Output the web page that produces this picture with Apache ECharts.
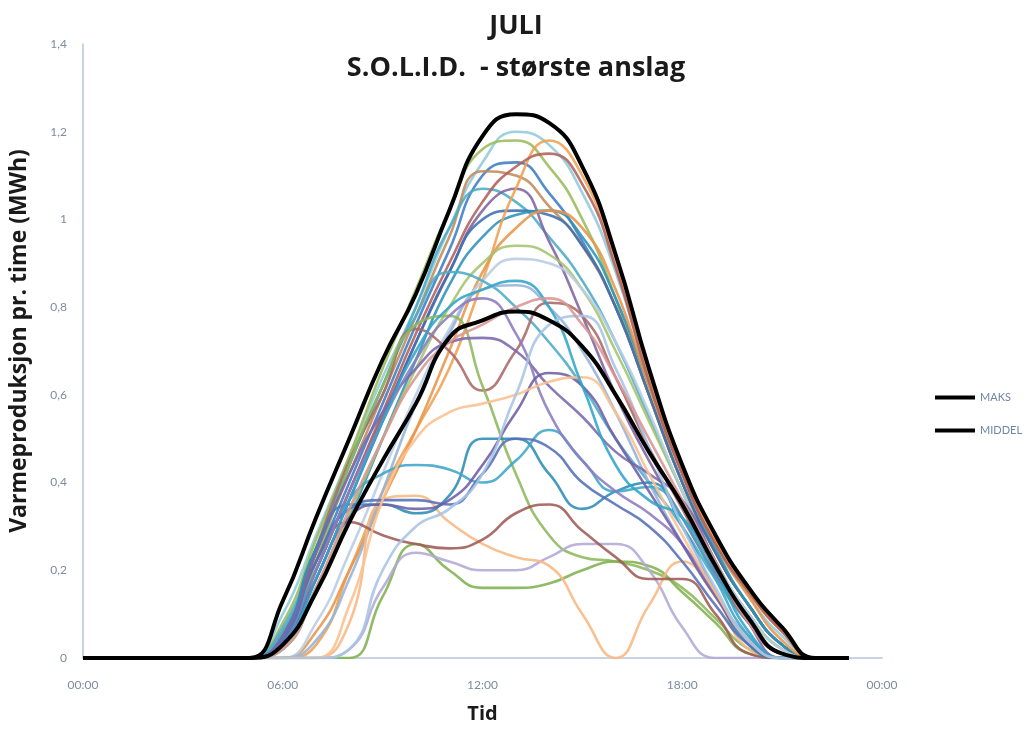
<!DOCTYPE html>
<html>
<head>
<meta charset="utf-8">
<script src="https://cdn.jsdelivr.net/npm/echarts@6/dist/echarts.min.js"></script>
<style>html,body{margin:0;padding:0;background:#fff}#c{width:1032px;height:729px}</style>
</head>
<body>
<div id="c"></div>
<script>
const hours = [0,1,2,3,4,5,6,7,8,9,10,11,12,13,14,15,16,17,18,19,20,21,22,23];
const xTicks = ['00:00','06:00','12:00','18:00','00:00'];

const maks   = [0,0,0,0,0,0, 0.13,0.32,0.50,0.68,0.83,1.02, 1.19,1.24,1.22,1.12,0.92,0.66, 0.44,0.28,0.16,0.07,0,0];
const middel = [0,0,0,0,0,0, 0.03,0.15,0.31,0.45,0.58,0.73, 0.77,0.79,0.77,0.71,0.60,0.47, 0.35,0.21,0.09,0.01,0,0];

const dag01 = [0,0,0,0,0,0, 0.10,0.28,0.46,0.64,0.80,0.98, 1.13,1.20,1.17,1.06,0.88,0.64, 0.42,0.26,0.14,0.05,0,0];
const dag02 = [0,0,0,0,0,0, 0.08,0.27,0.46,0.66,0.84,1.02, 1.16,1.18,1.12,1.00,0.82,0.60, 0.40,0.24,0.12,0.03,0,0];
const dag03 = [0,0,0,0,0,0, 0.05,0.22,0.40,0.58,0.76,0.93, 1.10,1.13,1.06,0.95,0.80,0.60, 0.40,0.24,0.12,0.03,0,0];
const dag04 = [0,0,0,0,0,0, 0.06,0.24,0.42,0.60,0.78,0.96, 1.11,1.10,1.03,0.94,0.80,0.60, 0.40,0.24,0.12,0.03,0,0];
const dag05 = [0,0,0,0,0,0, 0.07,0.25,0.44,0.62,0.80,0.98, 1.07,1.04,0.96,0.86,0.72,0.55, 0.38,0.22,0.10,0.02,0,0];
const dag06 = [0,0,0,0,0,0, 0.04,0.20,0.38,0.55,0.72,0.88, 1.02,1.07,0.95,0.78,0.60,0.45, 0.32,0.19,0.08,0.01,0,0];
const dag07 = [0,0,0,0,0,0, 0.03,0.18,0.36,0.54,0.72,0.88, 1.00,1.02,1.01,0.94,0.80,0.60, 0.40,0.24,0.12,0.03,0,0];
const dag08 = [0,0,0,0,0,0, 0.02,0.16,0.32,0.50,0.68,0.85, 0.96,1.01,1.02,0.96,0.82,0.62, 0.42,0.25,0.12,0.03,0,0];
const dag09 = [0,0,0,0,0,0, 0,0.03,0.20,0.38,0.52,0.66, 0.86,1.07,1.18,1.10,0.90,0.64, 0.43,0.27,0.15,0.06,0,0];
const dag10 = [0,0,0,0,0,0, 0,0.06,0.20,0.36,0.52,0.70, 0.88,0.98,1.02,0.98,0.84,0.62, 0.42,0.26,0.14,0.04,0,0];
const dag11 = [0,0,0,0,0,0, 0.04,0.20,0.38,0.56,0.74,0.90, 1.04,1.12,1.15,1.08,0.89,0.63, 0.42,0.26,0.15,0.06,0,0];
const dag12 = [0,0,0,0,0,0, 0.02,0.16,0.33,0.50,0.66,0.80, 0.90,0.94,0.92,0.84,0.70,0.54, 0.38,0.22,0.10,0.02,0,0];
const dag13 = [0,0,0,0,0,0, 0,0.08,0.24,0.42,0.60,0.75, 0.86,0.91,0.90,0.84,0.72,0.56, 0.38,0.22,0.10,0.02,0,0];
const dag14 = [0,0,0,0,0,0, 0.06,0.24,0.44,0.62,0.78,0.88, 0.86,0.80,0.72,0.62,0.50,0.40, 0.30,0.18,0.08,0.01,0,0];
const dag15 = [0,0,0,0,0,0, 0,0.04,0.18,0.38,0.58,0.74, 0.84,0.85,0.80,0.70,0.56,0.40, 0.26,0.14,0.05,0,0,0];
const dag16 = [0,0,0,0,0,0, 0.05,0.25,0.45,0.60,0.75,0.70, 0.61,0.70,0.81,0.78,0.64,0.48, 0.34,0.20,0.08,0.01,0,0];
const dag17 = [0,0,0,0,0,0, 0.04,0.22,0.44,0.62,0.76,0.78, 0.62,0.42,0.28,0.23,0.22,0.20, 0.16,0.09,0.02,0,0,0];
const dag18 = [0,0,0,0,0,0, 0,0,0,0.14,0.26,0.20, 0.16,0.16,0.17,0.20,0.22,0.21, 0.15,0.08,0.01,0,0,0];
const dag19 = [0,0,0,0,0,0, 0,0,0.02,0.16,0.24,0.22, 0.20,0.20,0.23,0.26,0.26,0.20, 0.07,0,0,0,0,0];
const dag20 = [0,0,0,0,0,0, 0,0,0.08,0.36,0.37,0.31, 0.26,0.23,0.21,0.10,0,0.12, 0.22,0.14,0.02,0,0,0];
const dag21 = [0,0,0,0,0,0, 0.04,0.22,0.31,0.28,0.26,0.25, 0.27,0.33,0.35,0.29,0.23,0.18, 0.18,0.10,0.01,0,0,0];
const dag22 = [0,0,0,0,0,0, 0.05,0.25,0.35,0.35,0.33,0.37, 0.50,0.50,0.42,0.34,0.38,0.40, 0.30,0.15,0.03,0,0,0];
const dag23 = [0,0,0,0,0,0, 0.04,0.20,0.36,0.42,0.44,0.43, 0.40,0.45,0.52,0.45,0.38,0.39, 0.32,0.18,0.05,0,0,0];
const dag24 = [0,0,0,0,0,0, 0.04,0.22,0.34,0.36,0.36,0.35, 0.42,0.50,0.48,0.40,0.35,0.30, 0.22,0.12,0.03,0,0,0];
const dag25 = [0,0,0,0,0,0, 0.05,0.24,0.42,0.56,0.66,0.72, 0.73,0.70,0.62,0.55,0.47,0.42, 0.36,0.22,0.08,0,0,0];
const dag26 = [0,0,0,0,0,0, 0.03,0.20,0.38,0.54,0.68,0.78, 0.82,0.74,0.56,0.45,0.38,0.33, 0.26,0.15,0.04,0,0,0];
const dag27 = [0,0,0,0,0,0, 0.03,0.18,0.32,0.35,0.34,0.36, 0.44,0.56,0.65,0.62,0.50,0.38, 0.26,0.14,0.04,0,0,0];
const dag28 = [0,0,0,0,0,0, 0,0,0.12,0.36,0.50,0.56, 0.58,0.60,0.63,0.64,0.56,0.42, 0.28,0.15,0.04,0,0,0];
const dag29 = [0,0,0,0,0,0, 0.03,0.18,0.36,0.54,0.70,0.80, 0.84,0.86,0.80,0.62,0.44,0.36, 0.32,0.20,0.06,0,0,0];
const dag30 = [0,0,0,0,0,0, 0,0,0.02,0.20,0.30,0.34, 0.42,0.60,0.76,0.78,0.66,0.48, 0.30,0.16,0.04,0,0,0];
const dag31 = [0,0,0,0,0,0, 0.02,0.16,0.34,0.50,0.64,0.72, 0.76,0.80,0.82,0.76,0.64,0.50, 0.36,0.22,0.08,0.01,0,0];

const days = [dag01,dag02,dag03,dag04,dag05,dag06,dag07,dag08,dag09,dag10,dag11,dag12,dag13,dag14,dag15,dag16,
              dag17,dag18,dag19,dag20,dag21,dag22,dag23,dag24,dag25,dag26,dag27,dag28,dag29,dag30,dag31];
const dayColors = ['#8FCBDB','#9BBB59','#3D7CC4','#C08A5A','#4BACC6','#8064A2','#3A6FB0','#2E93B8',
  '#F0A050','#E8954A','#B0605A','#A5C46E','#B9CDE5','#4BACC6','#95B3D7','#A86A66','#8DB85A','#7FB24E',
  '#B3A8D6','#F8B882','#9E5A56','#2A8DB5','#3FA6C8','#5570B8','#7A68AE','#8C7CC0','#6E5EA6','#FAC090',
  '#31A5C8','#A7C4E5','#D99694'];

const toPairs = arr => hours.map((h, i) => [h, arr[i]]);
const series = days.map((d, i) => ({
  name: 'Dag ' + (i + 1),
  type: 'line', smooth: 0.5, symbol: 'none', showSymbol: false,
  data: toPairs(d),
  lineStyle: { width: 2.6, color: dayColors[i], opacity: 0.88 },
  itemStyle: { color: dayColors[i] },
  z: 2
}));
series.push({
  name: 'MAKS', type: 'line', smooth: 0.5, symbol: 'none', showSymbol: false,
  data: toPairs(maks), lineStyle: { width: 4, color: '#000' }, itemStyle: { color: '#000' }, z: 5
});
series.push({
  name: 'MIDDEL', type: 'line', smooth: 0.5, symbol: 'none', showSymbol: false,
  data: toPairs(middel), lineStyle: { width: 4, color: '#000' }, itemStyle: { color: '#000' }, z: 5
});

const chart = echarts.init(document.getElementById('c'), null, { renderer: 'canvas' });
chart.setOption({
  animation: false,
  backgroundColor: '#fff',
  title: {
    text: 'JULI\nS.O.L.I.D.  - største anslag',
    left: 'center', top: 0,
    textStyle: { fontFamily: 'Open Sans', fontWeight: 'bold', fontSize: 27, color: '#1a1a1a', lineHeight: 42 }
  },
  legend: {
    data: ['MAKS', 'MIDDEL'],
    orient: 'vertical', left: 935, top: 392, itemGap: 22, padding: 0,
    icon: 'rect', itemWidth: 40, itemHeight: 4,
    textStyle: { fontFamily: 'Lato', fontSize: 11, color: '#6F86A8' }
  },
  grid: { left: 83, right: 150, top: 44, bottom: 69, containLabel: false },
  xAxis: {
    type: 'value', min: 0, max: 24, interval: 6,
    name: 'Tid', nameLocation: 'middle', nameGap: 46,
    nameTextStyle: { fontFamily: 'Open Sans', fontWeight: 'bold', fontSize: 20, color: '#1a1a1a' },
    axisLine: { show: true, lineStyle: { color: '#B4C6DC', width: 1.5 } },
    axisTick: { show: false },
    splitLine: { show: false },
    axisLabel: {
      color: '#7D8CA3', fontFamily: 'Lato', fontSize: 12, margin: 21,
      formatter: v => xTicks[Math.round(v / 6)]
    }
  },
  yAxis: {
    type: 'value', min: 0, max: 1.4, interval: 0.2,
    name: 'Varmeproduksjon pr. time (MWh)', nameLocation: 'middle', nameGap: 52,
    nameTextStyle: { fontFamily: 'Open Sans', fontWeight: 'bold', fontSize: 23, color: '#1a1a1a', padding: [0, 0, 0, 20] },
    axisLine: { show: true, lineStyle: { color: '#B4C6DC', width: 1.5 } },
    axisTick: { show: false },
    splitLine: { show: false },
    axisLabel: {
      color: '#7D8CA3', fontFamily: 'Lato', fontSize: 12, margin: 16,
      formatter: v => String(+v.toFixed(1)).replace('.', ',')
    }
  },
  series: series
});
</script>
</body>
</html>
